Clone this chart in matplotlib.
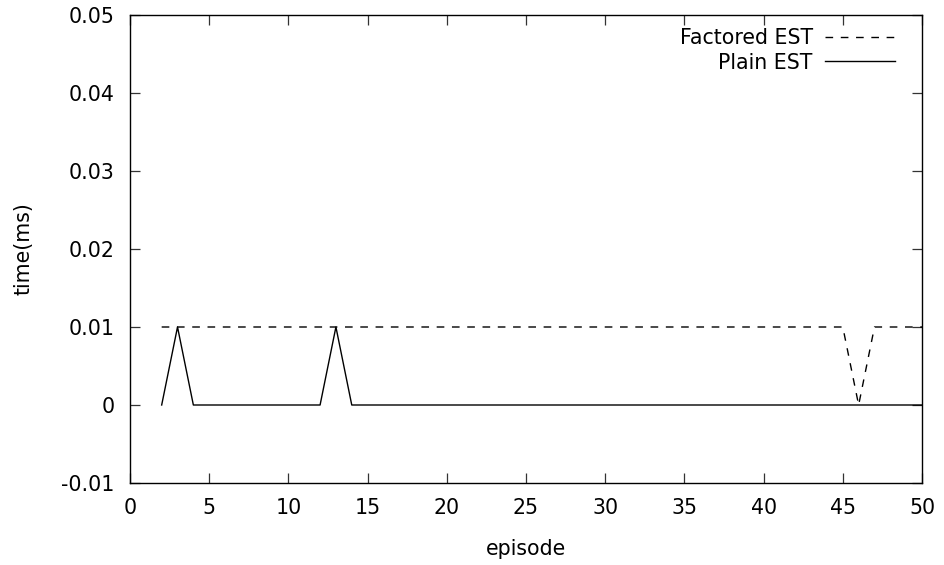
import numpy as np
import matplotlib.pyplot as plt

plt.rcParams['font.family'] = ['DejaVu Sans']
plt.rcParams['axes.unicode_minus'] = False

# per-episode timings (ms)
episodes = list(range(2, 51))
factored_est = [0.01] * 44 + [0.0] + [0.01] * 4      # dip at episode 46
plain_est = [0.0, 0.01] + [0.0] * 9 + [0.01] + [0.0] * 37  # spikes at 3 and 13

x_ticks = [0, 5, 10, 15, 20, 25, 30, 35, 40, 45, 50]
y_ticks = [-0.01, 0, 0.01, 0.02, 0.03, 0.04, 0.05]

fig = plt.figure(figsize=(9.45, 5.65), dpi=100)
ax = fig.add_axes([130 / 945, 1 - 483 / 565, 792 / 945, 468 / 565])

ax.plot(episodes, factored_est, color='black', lw=1.0, dashes=(5.5, 5.5),
        label='Factored EST')
ax.plot(episodes, plain_est, color='black', lw=1.0, label='Plain EST')

ax.set_xlim(0, 50)
ax.set_ylim(-0.01, 0.05)
ax.set_xticks(x_ticks)
ax.set_yticks(y_ticks)
ax.set_yticklabels([f'{v:g}' for v in y_ticks])

fs = 14.8
ax.tick_params(direction='in', length=7, width=0.9, top=True, right=True,
               labelsize=fs, color='#333333')
ax.tick_params(axis='x', pad=11)
ax.tick_params(axis='y', pad=11)
for s in ax.spines.values():
    s.set_linewidth(1.0)

ax.set_xlabel('episode', fontsize=fs, labelpad=15)
ax.set_ylabel('time(ms)', fontsize=fs, labelpad=20)

ax.legend(loc='upper right', bbox_to_anchor=(0.966, 0.972), frameon=False,
          markerfirst=False, fontsize=fs, handlelength=3.4,
          handletextpad=0.6, labelspacing=0.22, borderpad=0, borderaxespad=0)

fig.savefig('out.png', dpi=100)
